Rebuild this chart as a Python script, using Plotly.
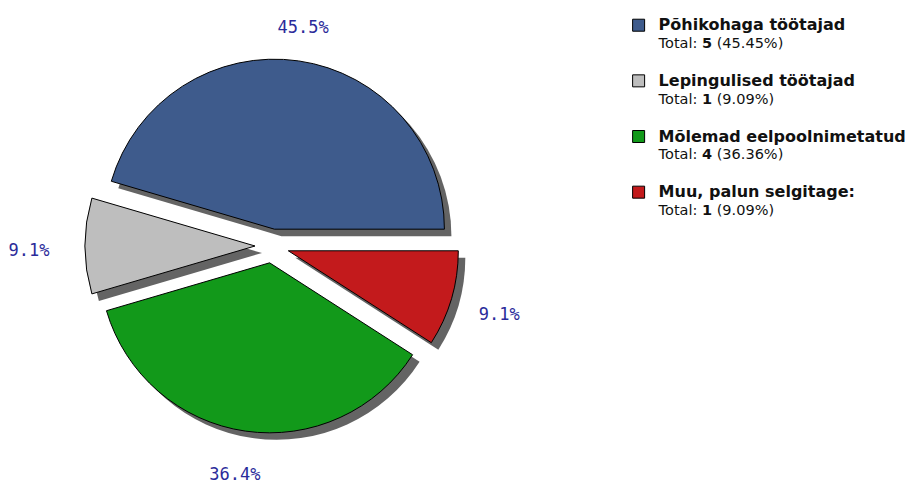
import math
import plotly.graph_objects as go

# ---- data ----
names = ["Põhikohaga töötajad", "Lepingulised töötajad",
         "Mõlemad eelpoolnimetatud", "Muu, palun selgitage:"]
counts = [5, 1, 4, 1]
colors = ["#3E5B8C", "#BEBEBE", "#12991A", "#C31A1C"]

# ---- layout constants ----
W, H = 921, 483
OFF = 8                         # page body margin in the browser
CX, CY = 272 - OFF, 246 - OFF   # pie centre in pixels
R = 170                         # slice radius in pixels
PULL = 0.1
SHADOW = 7
LBL_RX, LBL_RY = 240, 226       # label distance from centre (pixels)
LBL_DX, LBL_DY = -3, 6          # small label nudge (pixels)


def dom(cx, cy, r):
    half = r * (1 + PULL)
    return dict(x=[(cx - half) / W, (cx + half) / W],
                y=[1 - (cy + half) / H, 1 - (cy - half) / H])


total = sum(counts)
legend_labels = [
    f"<span style='font-size:16px'><b>{n}</b></span><br>"
    f"<span style='font-size:14.5px'>Total: <b>{c}</b> ({c / total * 100:.2f}%)</span><br> "
    for n, c in zip(names, counts)
]

# first slice runs counter-clockwise from 3 o'clock
rotation = 90 - counts[0] / total * 360

common = dict(values=counts, sort=False, direction="counterclockwise",
              rotation=rotation, pull=[PULL] * len(counts), hoverinfo="skip")

fig = go.Figure()

# shadow
fig.add_trace(go.Pie(
    labels=[f"s{i}" for i in range(len(counts))],
    marker=dict(colors=["#646464"] * len(counts), line=dict(width=0)),
    textinfo="none", showlegend=False,
    domain=dom(CX + SHADOW, CY + SHADOW, R), **common))

# main pie
fig.add_trace(go.Pie(
    labels=legend_labels,
    marker=dict(colors=colors, line=dict(color="#000000", width=1)),
    textinfo="none", showlegend=True,
    domain=dom(CX, CY, R), **common))

# percentage labels placed along each slice's middle angle
lx, ly, lt = [], [], []
acc = 0
for c in counts:
    mid = math.radians(360 * (acc + c / 2) / total)
    acc += c
    lx.append(CX + LBL_DX + LBL_RX * math.cos(mid))
    ly.append(CY + LBL_DY - LBL_RY * math.sin(mid))
    lt.append(f"{c / total * 100:.1f}%")

fig.add_trace(go.Scatter(
    x=lx, y=ly, text=lt, mode="text", showlegend=False, hoverinfo="skip",
    textposition="middle center", cliponaxis=False,
    textfont=dict(family="DejaVu Sans Mono", size=17, color="#2B2B9A")))

fig.update_layout(
    width=W, height=H,
    margin=dict(l=0, r=0, t=0, b=0, autoexpand=False),
    paper_bgcolor="white", plot_bgcolor="white",
    font=dict(family="DejaVu Sans", size=13.5, color="#111111"),
    xaxis=dict(range=[0, W], visible=False, fixedrange=True),
    yaxis=dict(range=[H, 0], visible=False, fixedrange=True),
    legend=dict(x=0.663, y=0.996, xanchor="left", yanchor="top",
                valign="top", traceorder="normal",
                font=dict(family="DejaVu Sans", size=13.5, color="#111111"),
                bgcolor="rgba(0,0,0,0)"),
)

fig.write_html("out.html")
